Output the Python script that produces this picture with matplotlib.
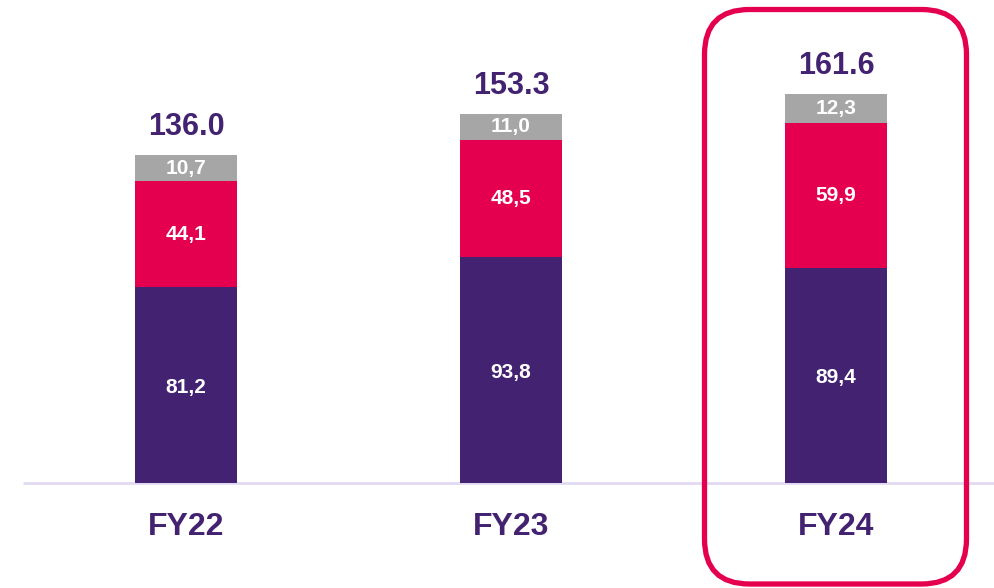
import numpy as np
import matplotlib
matplotlib.use("Agg")
import matplotlib.pyplot as plt
from matplotlib.patches import FancyBboxPatch

years = ["FY22", "FY23", "FY24"]
base = [81.2, 93.8, 89.4]
middle = [44.1, 48.5, 59.9]
top = [10.7, 11.0, 12.3]
totals = ["136.0", "153.3", "161.6"]

purple = "#432371"
red = "#E4004F"
grey = "#A6A6A6"

plt.rcParams["font.family"] = ["Liberation Sans", "DejaVu Sans"]

fig = plt.figure(figsize=(9.94, 5.88), dpi=100)
ax = fig.add_axes([0, 0, 1, 1])

# pixel-based layout: bars centred at 186, 511, 836 px, baseline at 483 px
k = 2.41
x = np.arange(len(years))
ax.set_xlim(-186 / 325, -186 / 325 + 994 / 325)
ax.set_ylim(-105 / k, (588 - 105) / k)
w = 102 / 325

base = np.array(base)
middle = np.array(middle)
top = np.array(top)

ax.bar(x, base, w, color=purple)
ax.bar(x, middle, w, bottom=base, color=red)
ax.bar(x, top, w, bottom=base + middle, color=grey)

def fmt(v):
    return f"{v:.1f}".replace(".", ",")

for i in range(len(years)):
    ax.text(x[i], base[i] / 2 - 1, fmt(base[i]), ha="center", va="center",
            color="white", fontsize=15, fontweight="bold")
    ax.text(x[i], base[i] + middle[i] / 2, fmt(middle[i]), ha="center", va="center",
            color="white", fontsize=15, fontweight="bold")
    ax.text(x[i], base[i] + middle[i] + top[i] / 2, fmt(top[i]), ha="center", va="center",
            color="white", fontsize=15, fontweight="bold")
    tot = base[i] + middle[i] + top[i]
    ax.text(x[i], tot + 28 / k, totals[i], ha="center", va="center",
            color=purple, fontsize=22, fontweight="bold")
    ax.text(x[i], -44 / k, years[i], ha="center", va="center",
            color=purple, fontsize=23, fontweight="bold")

# baseline
ax.plot([-163 / 325, 3], [0, 0], color="#E2D9F3", lw=2, solid_capstyle="butt", zorder=0)
ax.axis("off")

# highlight box around FY24 (figure pixel coords)
W, H = 994, 588
l, r, t, b = 704.5, 966.5, 9.5, 584
rad = 45
box = FancyBboxPatch(((l + rad) / W, (H - b + rad) / H), (r - l - 2 * rad) / W, (b - t - 2 * rad) / H,
                     boxstyle=f"round,pad={rad / W}", transform=fig.transFigure,
                     fill=False, edgecolor=red, lw=3.8, mutation_aspect=W / H)
fig.patches.append(box)

fig.savefig("out.png", dpi=100)
